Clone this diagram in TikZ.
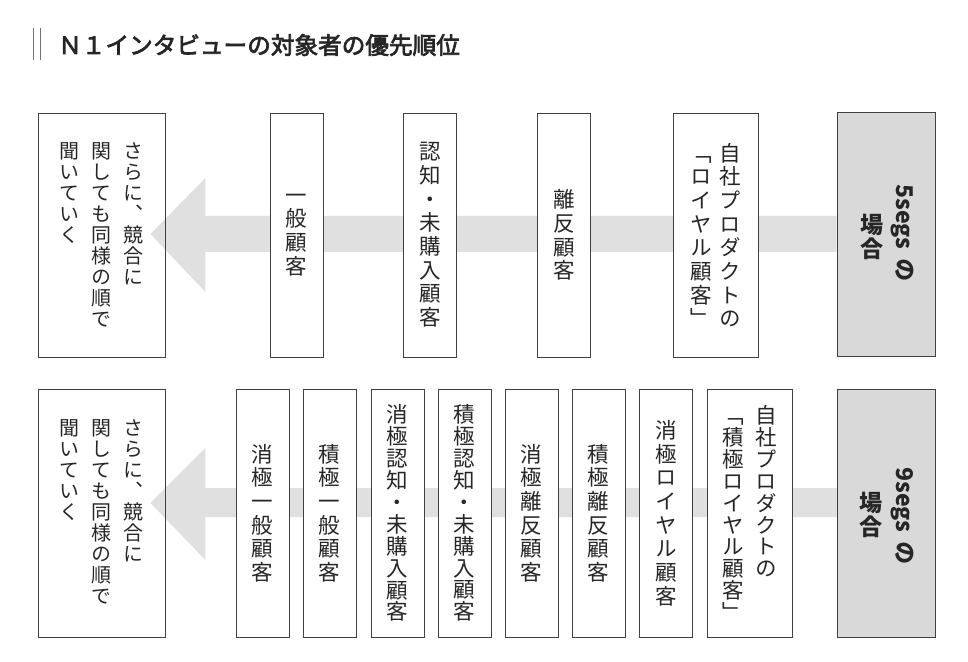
\documentclass[tikz,border=0pt]{standalone}
\usepackage{fontspec}
\usepackage{graphicx}
\newfontfamily\jpfont[FakeBold=3]{Noto Sans CJK JP}
\newfontfamily\tatefont[RawFeature=+vert]{Noto Sans CJK JP}
\usetikzlibrary{calc,positioning}

\pgfdeclarelayer{background}
\pgfsetlayers{background,main}

\newcommand\titlefont{\jpfont\fontsize{16.8pt}{19pt}\selectfont}
\newcommand\boxfont{\tatefont\fontsize{15.3pt}{18pt}\selectfont}
\newcommand\askfont{\tatefont\fontsize{14.2pt}{17pt}\selectfont}
\newcommand\casefont{\tatefont\bfseries\fontsize{16.4pt}{19pt}\selectfont}

% one column of vertical text, top to bottom
\ExplSyntaxOn
\NewDocumentCommand\tatecol{O{1.1em}m}
  {
    \vtop
      {
        \baselineskip=#1 \lineskiplimit=0pt \lineskip=0.05em
        \tl_map_inline:nn {#2} { \hbox_to_wd:nn {1em} { \hss ##1 \hss } }
      }
  }
\ExplSyntaxOff

\begin{document}
\begin{tikzpicture}[x=0.025cm, y=-0.025cm,
    every node/.style={inner sep=0pt},
    custbox/.style={draw=black!75, line width=0.6pt, fill=white, minimum width=1.325cm, text=black!85, font=\boxfont},
    wide/.style={minimum width=2.125cm},
    askbox/.style={draw=black!75, line width=0.6pt, minimum width=3.175cm},
    asktext/.style={text=black!85, font=\askfont},
    casebox/.style={draw=black!75, line width=0.6pt, fill=black!15, minimum width=2.45cm},
    casetext/.style={text=black!85, font=\casefont},
    row5/.style={minimum height=6.1cm},
    row9/.style={minimum height=6.2cm},
    flow/.style={fill=black!12},
    titlebar/.style={draw=black!55, line width=0.5pt}]
    \useasboundingbox (0,0) rectangle (968,662);

    % the heading
    \draw[titlebar] (33,28) -- (33,60);
    \draw[titlebar] (40,28) -- (40,60);
    \node[anchor=west, font=\titlefont, text=black!85] (title) at (58,45) {Ｎ１インタビューの対象者の優先順位};

    % the 5segs row
    \node[askbox, row5] (ask5) at (101.5,235) {};
    \node[asktext, below=0.75cm of ask5.north] (askt5) {\hbox{\tatecol[1.05em]{聞いていく}\hskip0.6em\tatecol[1.05em]{関しても同様の順で}\hskip0.6em\tatecol[1.05em]{さらに、競合に}}};
    \node[custbox, row5] (gen5) at (296.5,235) {\tatecol{一般顧客}};
    \node[custbox, row5] (aware5) at (430,235) {\tatecol{認知・未購入顧客}};
    \node[custbox, row5] (lapse5) at (564,235) {\tatecol{離反顧客}};
    \node[custbox, row5, wide] (loyal5) at (715.5,235) {\hbox{\tatecol{「ロイヤル顧客」}\hskip0.35em\tatecol{自社プロダクトの}}};
    \node[casebox, row5] (seg5) at (886,234.5) {};
    \node[casetext, rotate=-90] (segn5) at (902,233) {5segs\hskip0.4em の};
    \node[casetext] (segb5) at (872,237) {\tatecol[1.05em]{場合}};

    % the 9segs row
    \node[askbox, row9] (ask9) at (101.5,513) {};
    \node[asktext, below=0.775cm of ask9.north] (askt9) {\hbox{\tatecol[1.05em]{聞いていく}\hskip0.6em\tatecol[1.05em]{関しても同様の順で}\hskip0.6em\tatecol[1.05em]{さらに、競合に}}};
    \node[custbox, row9] (pasgen9) at (262.5,513) {\tatecol{消極一般顧客}};
    \node[custbox, row9] (actgen9) at (329.5,513) {\tatecol{積極一般顧客}};
    \node[custbox, row9] (pasaware9) at (397.5,513) {\tatecol[1.02em]{消極認知・未購入顧客}};
    \node[custbox, row9] (actaware9) at (464.5,513) {\tatecol[1.02em]{積極認知・未購入顧客}};
    \node[custbox, row9] (paslapse9) at (531.5,513) {\tatecol{消極離反顧客}};
    \node[custbox, row9] (actlapse9) at (598.5,513) {\tatecol{積極離反顧客}};
    \node[custbox, row9] (pasloyal9) at (666,513) {\tatecol{消極ロイヤル顧客}};
    \node[custbox, row9, wide] (actloyal9) at (749.5,513) {\hbox{\tatecol[1.02em]{「積極ロイヤル顧客」}\hskip0.55em\tatecol[1.02em]{自社プロダクトの}}};
    \node[casebox, row9] (seg9) at (886.5,513) {};
    \node[casetext, rotate=-90] (segn9) at (902,516) {9segs\hskip0.4em の};
    \node[casetext] (segb9) at (871,515) {\tatecol[1.05em]{場合}};

    % the big arrows behind the boxes
    \begin{pgfonlayer}{background}
        \fill[flow] ($(ask5.east)+(-15,-1)$) -- ++(55,-56) -- ++(0,38) -- ($(seg5.west)+(0,-18.5)$) -- ++(0,36) -- ($(ask5.east)+(40,17)$) -- ++(0,40) -- cycle;
        \fill[flow] ($(ask9.east)+(-15,-10)$) -- ++(55,-55) -- ++(0,40) -- ($(seg9.west)+(0,-25)$) -- ++(0,29) -- ($(ask9.east)+(40,4)$) -- ++(0,43) -- cycle;
    \end{pgfonlayer}

\end{tikzpicture}
\end{document}
